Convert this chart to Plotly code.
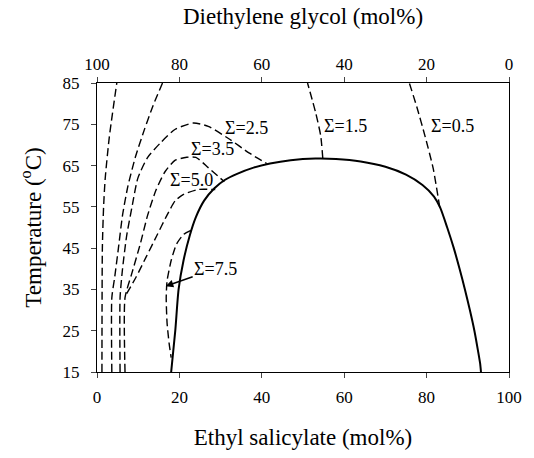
import plotly.graph_objects as go

# ---- data (Ethyl salicylate mol%, Temperature °C) ----
binodal_x = [18.0, 19.0, 19.8, 21.0, 22.5, 24.0, 26.0, 28.5, 31.0, 34.0, 38.0, 42.0, 47.0, 53.0,
             58.0, 64.0, 70.0, 75.0, 79.0, 81.8, 83.3, 85.0, 86.6, 88.0, 89.3, 90.5, 91.6, 92.5, 93.0, 93.2]
binodal_t = [15, 25, 35, 42, 48, 52.5, 56.5, 59.5, 61.5, 63, 64.5, 65.5, 66.3, 66.7,
             66.6, 66, 64.7, 62.8, 60.3, 57.5, 54.8, 50, 45, 40, 35, 30, 25, 20, 17, 15]

curveA_x = [1.2, 1.3, 1.6, 2.0, 3.0, 4.8]
curveA_t = [15, 45, 55, 62, 72, 85]

curveB_x = [3.6, 3.6, 4.3, 5.2, 6.2, 7.5, 9.3, 11.5, 13.6, 15.9]
curveB_t = [15, 33, 38, 45, 53, 60, 67, 73.7, 79.5, 85]

s25_x = [5.6, 5.6, 6.2, 7.2, 8.5, 9.9, 12.3, 15.5, 19.0, 23.4, 27.0, 32.0, 37.0, 41.2]
s25_t = [15, 33, 40, 48, 55, 61.9, 67, 70.6, 73.8, 75.3, 74.5, 71.5, 68, 65.5]

s35_x = [6.8, 6.8, 8.4, 10.5, 12.3, 14.3, 16.5, 19.0, 21.8, 24.0, 27.0, 30.9]
s35_t = [15, 33, 38.7, 46, 53, 59, 63.5, 66.3, 67, 67, 64.5, 61.1]

s50_x = [7.2, 9.5, 12.0, 14.5, 17.0, 19.0, 21.0, 24.5, 28.7]
s50_t = [34, 38, 43, 48, 53, 56.5, 58, 59.2, 59.2]

s75_x = [22.8, 21.0, 19.3, 18.0, 17.0, 16.8, 17.0, 17.5, 18.0]
s75_t = [49.3, 48.3, 46, 42, 37, 33, 27, 22, 18.5]

s15_x = [54.8, 54.3, 53.1, 51.1]
s15_t = [66.8, 72.2, 77.7, 85]

s05_x = [83.2, 81.6, 79.6, 77.6, 75.8]
s05_t = [54.8, 64.3, 72.2, 79.3, 85]

label_text = ["Σ=2.5", "Σ=3.5", "Σ=5.0", "Σ=1.5", "Σ=0.5"]
label_x = [36.3, 28.1, 22.9, 60.2, 86.4]
label_t = [74.0, 69.0, 61.4, 74.5, 74.5]

arrow_label = "Σ=7.5"
arrow_label_x, arrow_label_t = 28.8, 40.0
arrow_tip_x, arrow_tip_t = 16.7, 35.8

x_ticks = [0, 20, 40, 60, 80, 100]
top_ticks = [100, 80, 60, 40, 20, 0]
y_ticks = [15, 25, 35, 45, 55, 65, 75, 85]

FONT = "Liberation Serif, Times New Roman, serif"
fig = go.Figure()

dash = "8px,4px"
for xs, ts in [(curveA_x, curveA_t), (curveB_x, curveB_t), (s25_x, s25_t), (s35_x, s35_t),
               (s50_x, s50_t), (s75_x, s75_t), (s15_x, s15_t), (s05_x, s05_t)]:
    fig.add_trace(go.Scatter(x=xs, y=ts, mode="lines",
                             line=dict(color="black", width=1.4, dash=dash, shape="spline", smoothing=0.6),
                             showlegend=False, hoverinfo="skip"))

fig.add_trace(go.Scatter(x=binodal_x, y=binodal_t, mode="lines",
                         line=dict(color="black", width=2, shape="spline", smoothing=0.6),
                         showlegend=False))

# invisible trace on the top (Diethylene glycol) axis
fig.add_trace(go.Scatter(x=top_ticks, y=[None] * len(top_ticks), xaxis="x2",
                         mode="markers", showlegend=False))

for t, lx, lt in zip(label_text, label_x, label_t):
    fig.add_annotation(x=lx, y=lt, text=t, showarrow=False,
                       font=dict(family=FONT, size=18, color="black"))

fig.add_annotation(x=arrow_tip_x, y=arrow_tip_t, ax=arrow_label_x, ay=arrow_label_t,
                   axref="x", ayref="y", text=arrow_label,
                   font=dict(family=FONT, size=18, color="black"),
                   showarrow=True, arrowhead=2, arrowsize=1, arrowwidth=1.5, arrowcolor="black")

fig.update_layout(
    width=534, height=458,
    margin=dict(l=97, r=16, t=83, b=80),
    paper_bgcolor="white", plot_bgcolor="white",
    font=dict(family=FONT, size=17, color="black"),
    xaxis=dict(range=[0, 100], tickvals=x_ticks, ticks="outside", ticklen=5, tickwidth=1,
               ticklabelstandoff=5,
               showline=True, linecolor="black", linewidth=1, showgrid=False, zeroline=False,
               title=dict(text="Ethyl salicylate (mol%)", font=dict(size=23), standoff=22)),
    xaxis2=dict(range=[100, 0], overlaying="x", side="top", tickvals=top_ticks, ticks="outside",
                ticklen=5, tickwidth=1, showline=True, linecolor="black", linewidth=1,
                showgrid=False, zeroline=False,
                title=dict(text="Diethylene glycol (mol%)", font=dict(size=23), standoff=24)),
    yaxis=dict(range=[15, 85], tickvals=y_ticks, ticks="outside", ticklen=5, tickwidth=1,
               ticklabelstandoff=8,
               showline=True, linecolor="black", linewidth=1, mirror=True, showgrid=False, zeroline=False,
               title=dict(text="Temperature (<sup>o</sup>C)", font=dict(size=23), standoff=14)),
)

fig.write_html("out.html", config={"displayModeBar": False},
               post_script="document.body.style.margin='0';")
